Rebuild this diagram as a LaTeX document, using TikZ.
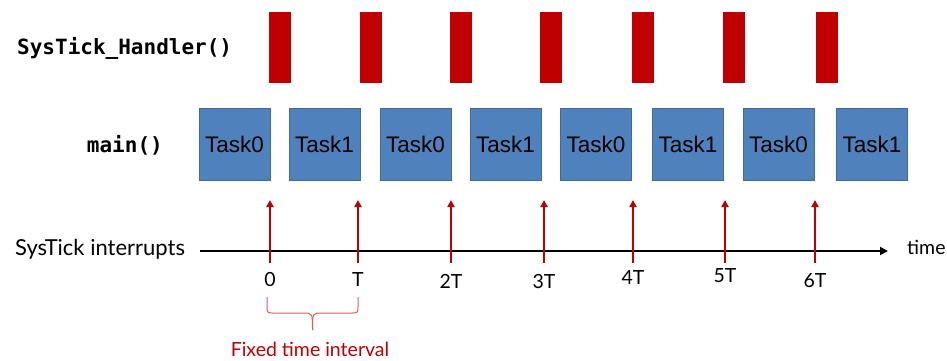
\documentclass[tikz,border=0pt]{standalone}
\usepackage{fontspec}
\setmainfont{Lato}
\newfontfamily\taskfont{Liberation Sans}
\newfontfamily\codefont{DejaVu Sans Mono}
\usetikzlibrary{arrows.meta}
\definecolor{tickred}{HTML}{C00000}
\definecolor{bracered}{HTML}{E05A5A}
\definecolor{taskblue}{HTML}{4F81BD}
\definecolor{taskedge}{HTML}{3E6C9E}
\begin{document}
\begin{tikzpicture}[x=1pt,y=-1pt,
  handler/.style={fill=tickred, draw=none, minimum width=22pt, minimum height=71pt, inner sep=0pt},
  taskbox/.style={fill=taskblue, draw=taskedge, line width=0.8pt, minimum width=71pt, minimum height=72pt,
    inner sep=0pt, font=\taskfont\fontsize{22.5}{26}\selectfont},
  irq/.style={draw=tickred, line width=2.2pt, -{Triangle[length=7pt,width=7pt]}},
  ticklabel/.style={font=\fontsize{19.5}{22}\selectfont, inner sep=0pt},
  rowlabel/.style={font=\codefont\bfseries\fontsize{21}{24}\selectfont, inner sep=0pt}]
\useasboundingbox (0,0) rectangle (947,360);

% row labels
\node[rowlabel, anchor=west] (lblhandler) at (17,48) {SysTick\_Handler()};
\node[rowlabel, anchor=east] (lblmain) at (163,145) {main()};
\node[font=\fontsize{22}{26}\selectfont, anchor=west, inner sep=0pt] (lblirq) at (15,249) {SysTick interrupts};

% handler bursts
\foreach \i/\x in {1/280, 2/370.5, 3/460.5, 4/551, 5/643, 6/734, 7/827}
  \node[handler] (h\i) at (\x,47.5) {};

% task slots in main()
\foreach \i/\x/\t in {1/234.5/Task0, 2/324.5/Task1, 3/415.5/Task0, 4/505.5/Task1,
                      5/596/Task0, 6/688/Task1, 7/778.5/Task0, 8/872/Task1}
  \node[taskbox] (t\i) at (\x,144) {\t};

% time axis
\coordinate (axstart) at (200,251);
\coordinate (axend) at (888,251);
\draw[line width=1.8pt, -{Triangle[length=8pt,width=8pt]}] (axstart) -- (axend);
\node[font=\fontsize{19.5}{22}\selectfont, anchor=west, inner sep=0pt] (timelbl) at (907,247) {time};

% interrupt arrows and tick labels
\foreach \i/\x/\l/\ly in {0/270/0/280, 1/358/T/280, 2/451/2T/281, 3/544/3T/282,
                          4/633/4T/278, 5/725/5T/276, 6/815/6T/281} {
  \coordinate (ib\i) at (\x,263);
  \coordinate (it\i) at (\x,200);
  \draw[irq] (ib\i) -- (it\i);
  \node[ticklabel] (tl\i) at (\x,\ly) {\l};
}

% brace marking one period
\coordinate (bl) at (267,297);
\coordinate (br) at (358,297);
\coordinate (bm) at (312.5,330);
\draw[bracered, line width=1pt, line join=round]
  (bl) -- (267,306) .. controls (267,313) .. (274,313) -- (303,313)
  .. controls (312.5,313) .. (bm);
\draw[bracered, line width=1pt, line join=round]
  (br) -- (358,306) .. controls (358,313) .. (351,313) -- (322,313)
  .. controls (312.5,313) .. (bm);
\node[text=tickred, font=\fontsize{19.5}{22}\selectfont, inner sep=0pt] (interval) at (310,349) {Fixed time interval};
\end{tikzpicture}
\end{document}
